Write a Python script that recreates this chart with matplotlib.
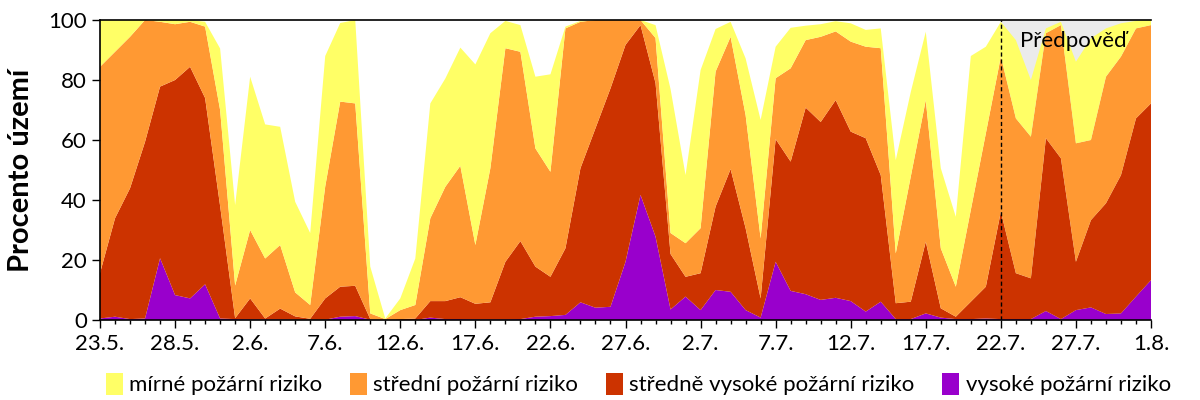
import numpy as np
import matplotlib
matplotlib.use("Agg")
import matplotlib.pyplot as plt
from matplotlib.patches import Patch

plt.rcParams['font.family'] = ['Lato', 'DejaVu Sans']

tick_labels = ["23.5.", "28.5.", "2.6.", "7.6.", "12.6.", "17.6.", "22.6.", "27.6.",
               "2.7.", "7.7.", "12.7.", "17.7.", "22.7.", "27.7.", "1.8."]
series_names = ["mírné požární riziko", "střední požární riziko",
                "středně vysoké požární riziko", "vysoké požární riziko"]

# daily values (23.5. - 1.8.), percent of territory
high = [0.5, 1.1, 0.3, 0.5, 20.6, 8.3, 7.2, 11.9, 0.5, 0.3,
        0.2, 0.2, 0.2, 0.1, 0.1, 0.1, 1.1, 1.3, 0.1, 0.0,
        0.0, 0.0, 0.8, 0.3, 0.3, 0.2, 0.2, 0.2, 0.3, 1.1,
        1.3, 1.7, 5.9, 4.1, 4.4, 19.4, 41.7, 27.8, 3.5, 7.8,
        3.3, 10.0, 9.4, 3.3, 0.8, 19.4, 9.7, 8.6, 6.7, 7.4,
        6.3, 2.8, 6.1, 0.3, 0.3, 2.2, 0.8, 0.3, 0.3, 0.5,
        0.3, 0.3, 0.3, 3.0, 0.3, 3.3, 4.2, 2.0, 2.2, 7.8,
        13.3]
medium_high = [15.1, 32.8, 43.6, 58.9, 57.2, 71.7, 77.2, 62.1, 37.5, 0.3,
               7.0, 0.3, 3.6, 1.1, 0.3, 7.1, 10.0, 10.1, 0.2, 0.1,
               0.3, 0.5, 5.5, 6.0, 7.3, 5.2, 5.7, 19.2, 26.0, 16.7,
               13.1, 22.2, 44.7, 59.8, 72.8, 72.3, 56.6, 51.2, 18.5, 6.6,
               12.3, 27.8, 40.9, 27.3, 6.4, 40.9, 43.1, 62.2, 59.3, 65.9,
               56.5, 57.8, 42.2, 5.3, 5.8, 23.9, 3.1, 0.8, 5.8, 10.6,
               35.8, 15.3, 13.6, 57.6, 53.6, 16.1, 29.1, 36.9, 46.1, 59.4,
               58.9]
medium = [68.8, 55.5, 50.5, 40.6, 21.6, 18.6, 15.0, 23.8, 32.0, 10.9,
          22.8, 20.0, 21.2, 8.0, 4.6, 37.3, 61.7, 60.8, 1.9, 0.2,
          3.0, 4.5, 27.6, 38.1, 43.8, 19.6, 44.7, 71.2, 63.1, 39.4,
          35.0, 73.3, 48.8, 36.1, 22.8, 8.3, 1.7, 15.0, 7.0, 11.2,
          15.0, 45.0, 44.1, 37.7, 20.0, 20.3, 31.1, 22.5, 28.4, 22.9,
          30.0, 30.5, 42.3, 16.6, 41.7, 47.2, 20.0, 10.0, 30.6, 51.1,
          51.7, 51.6, 47.2, 35.0, 44.4, 39.5, 26.7, 42.2, 39.5, 30.0,
          26.1]
mild = [15.6, 10.6, 5.6, 0.0, 0.6, 1.4, 0.6, 1.6, 20.5, 26.8,
        51.1, 44.7, 39.4, 30.2, 24.0, 43.5, 26.2, 27.8, 15.6, 0.2,
        3.9, 15.5, 38.3, 36.1, 39.4, 60.2, 45.0, 9.1, 8.9, 23.9,
        32.5, 0.6, 0.3, 0.0, 0.0, 0.0, 0.0, 4.3, 48.0, 22.7,
        52.7, 14.2, 5.0, 18.9, 39.5, 10.5, 13.5, 4.8, 4.2, 3.4,
        6.1, 5.6, 6.6, 31.1, 28.2, 22.8, 26.7, 23.3, 51.3, 28.9,
        11.6, 26.1, 18.9, 1.6, 1.1, 27.2, 33.9, 16.1, 11.1, 2.5,
        1.7]
forecast_start = 60  # index of 22.7.

colors = ['#ffff66', '#ff9933', '#cc3300', '#9900cc']

x = np.arange(len(high))

fig = plt.figure(figsize=(12, 4), dpi=100)
ax = fig.add_axes([100/1200, 80/400, 1051/1200, 300/400])

ax.fill_between([forecast_start, x[-1]], 0, 100, color='#ebebeb', lw=0, zorder=0)
ax.stackplot(x, high, medium_high, medium, mild,
             colors=[colors[3], colors[2], colors[1], colors[0]], lw=0, zorder=1)
ax.axvline(forecast_start, color='black', ls=(0, (3, 2)), lw=1, zorder=3)
ax.text(forecast_start + 4.8, 93, "Předpověď", ha='center', va='center',
        fontsize=16, color='black', zorder=4)

ax.set_xlim(0, x[-1])
ax.set_ylim(0, 100)
ax.set_yticks(np.arange(0, 101, 20))
ax.set_xticks(np.arange(0, len(x), 5))
ax.set_xticklabels(tick_labels)
ax.set_xticks(x, minor=True)
ax.tick_params(axis='both', which='major', labelsize=16, direction='out', length=6, width=1)
ax.tick_params(axis='x', which='minor', direction='out', length=3, width=1)
ax.tick_params(axis='x', pad=4)
ax.spines['right'].set_visible(False)
for s in ['top', 'left', 'bottom']:
    ax.spines[s].set_linewidth(1.2)
ax.set_ylabel("Procento území", fontsize=21, fontweight='bold', labelpad=10)

handles = [Patch(facecolor=c, edgecolor='none') for c in colors]
fig.legend(handles, series_names, loc='center', bbox_to_anchor=(0.532, 0.04), ncol=4,
           frameon=False, fontsize=16, handlelength=0.75, handleheight=1.2,
           handletextpad=0.3, columnspacing=1.25)

fig.savefig("out.png", dpi=100)
